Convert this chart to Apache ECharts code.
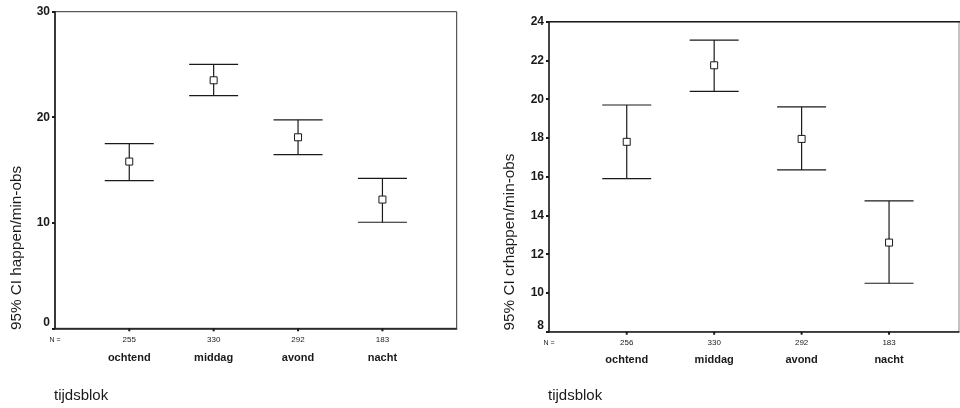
<!DOCTYPE html>
<html>
<head>
<meta charset="utf-8">
<script src="https://cdn.jsdelivr.net/npm/echarts@6/dist/echarts.min.js"></script>
<style>html,body{margin:0;padding:0;background:#fff}#c{width:960px;height:408px}</style>
</head>
<body>
<div id="c"></div>
<script>
const categories = ['ochtend', 'middag', 'avond', 'nacht'];
const nLeft = ['255', '330', '292', '183'];
const nRight = ['256', '330', '292', '183'];
const happenMean = [15.8, 23.5, 18.1, 12.2];
const happenLow = [14.0, 22.05, 16.45, 10.05];
const happenHigh = [17.5, 25.0, 19.75, 14.2];
const crMean = [17.8, 21.75, 17.95, 12.6];
const crLow = [15.9, 20.4, 16.35, 10.5];
const crHigh = [19.7, 23.05, 19.6, 14.75];
const leftTitle = '95% CI happen/min-obs';
const rightTitle = '95% CI crhappen/min-obs';
const xTitle = 'tijdsblok';
const nPrefix = 'N =';

const FONT = 'Liberation Sans';
const INK = '#1a1a1a';

function rows(mean, low, high, ns) {
  return categories.map((c, i) => [i + 1, low[i], high[i], mean[i], ns[i], c]);
}

function makeRender(xMin, yMin, catDy, nDy) {
  return function (params, api) {
    const x = api.value(0);
    const lo = api.coord([x, api.value(1)]);
    const hi = api.coord([x, api.value(2)]);
    const mid = api.coord([x, api.value(3)]);
    const base = api.coord([x, yMin]);
    const half = 24.5;
    const s = 3.5;
    const st = { stroke: INK, lineWidth: 1.2 };
    const children = [
      { type: 'line', shape: { x1: mid[0], y1: hi[1], x2: mid[0], y2: lo[1] }, style: st },
      { type: 'line', shape: { x1: mid[0] - half, y1: hi[1], x2: mid[0] + half, y2: hi[1] }, style: st },
      { type: 'line', shape: { x1: mid[0] - half, y1: lo[1], x2: mid[0] + half, y2: lo[1] }, style: st },
      { type: 'rect', shape: { x: mid[0] - s, y: mid[1] - s, width: 2 * s, height: 2 * s }, style: { fill: '#fff', stroke: INK, lineWidth: 1 } },
      { type: 'line', shape: { x1: base[0], y1: base[1], x2: base[0], y2: base[1] + 3 }, style: { stroke: INK, lineWidth: 2 } },
      { type: 'text', style: { text: api.value(4), x: base[0], y: base[1] + nDy, align: 'center', verticalAlign: 'middle', font: '8px "' + FONT + '"', fill: INK } },
      { type: 'text', style: { text: api.value(5), x: base[0], y: base[1] + catDy, align: 'center', verticalAlign: 'middle', font: 'bold 11px "' + FONT + '"', fill: INK } }
    ];
    if (params.dataIndex === 0) {
      const o = api.coord([xMin, yMin]);
      children.push({ type: 'text', style: { text: nPrefix, x: o[0], y: o[1] + nDy, align: 'center', verticalAlign: 'middle', font: '7px "' + FONT + '"', fill: INK } });
    }
    return { type: 'group', children: children };
  };
}

const L = { xMin: 0.12, xMax: 4.88, yMin: 0, yMax: 30, interval: 10 };
const R = { xMin: 0.111, xMax: 4.80, yMin: 8, yMax: 24, interval: 2 };

function yAxisCfg(idx, cfg) {
  return {
    gridIndex: idx, type: 'value', min: cfg.yMin, max: cfg.yMax, interval: cfg.interval,
    axisLine: { show: true, lineStyle: { color: INK, width: 1.5 } },
    axisTick: { show: true, length: 3, lineStyle: { color: INK, width: 2 } },
    splitLine: { show: false },
    axisLabel: { color: INK, fontFamily: FONT, fontWeight: 'bold', fontSize: 12, margin: 5, verticalAlignMinLabel: 'bottom' }
  };
}
function xAxisCfg(idx, cfg) {
  return {
    gridIndex: idx, type: 'value', min: cfg.xMin, max: cfg.xMax,
    axisLine: { show: true, onZero: false, lineStyle: { color: INK, width: 1.5 } },
    axisTick: { show: false }, axisLabel: { show: false }, splitLine: { show: false }
  };
}

const chart = echarts.init(document.getElementById('c'), null, { renderer: 'canvas' });
chart.setOption({
  animation: false,
  backgroundColor: '#fff',
  grid: [
    { left: 55, top: 11.7, right: 503.3, bottom: 79.7, show: true, borderColor: '#333', borderWidth: 1, containLabel: false },
    { left: 549, top: 21.7, right: 1, bottom: 76.3, show: true, borderColor: '#888', borderWidth: 1, containLabel: false }
  ],
  xAxis: [xAxisCfg(0, L), xAxisCfg(1, R)],
  yAxis: [yAxisCfg(0, L), yAxisCfg(1, R)],
  graphic: [
    { type: 'line', shape: { x1: 549, y1: 21.7, x2: 960, y2: 21.7 }, style: { stroke: INK, lineWidth: 1.5 } },
    { type: 'text', x: 16.5, y: 248, rotation: Math.PI / 2, style: { text: leftTitle, align: 'center', verticalAlign: 'middle', font: '15.3px "' + FONT + '"', fill: INK } },
    { type: 'text', x: 510, y: 242, rotation: Math.PI / 2, style: { text: rightTitle, align: 'center', verticalAlign: 'middle', font: '15.3px "' + FONT + '"', fill: INK } },
    { type: 'text', x: 54, y: 396, style: { text: xTitle, align: 'left', verticalAlign: 'middle', font: '15px "' + FONT + '"', fill: INK } },
    { type: 'text', x: 548, y: 396, style: { text: xTitle, align: 'left', verticalAlign: 'middle', font: '15px "' + FONT + '"', fill: INK } }
  ],
  series: [
    { type: 'custom', xAxisIndex: 0, yAxisIndex: 0, clip: false, renderItem: makeRender(L.xMin, L.yMin, 29.5, 11.5), data: rows(happenMean, happenLow, happenHigh, nLeft) },
    { type: 'custom', xAxisIndex: 1, yAxisIndex: 1, clip: false, renderItem: makeRender(R.xMin, R.yMin, 28.5, 11), data: rows(crMean, crLow, crHigh, nRight) }
  ]
});
</script>
</body>
</html>
